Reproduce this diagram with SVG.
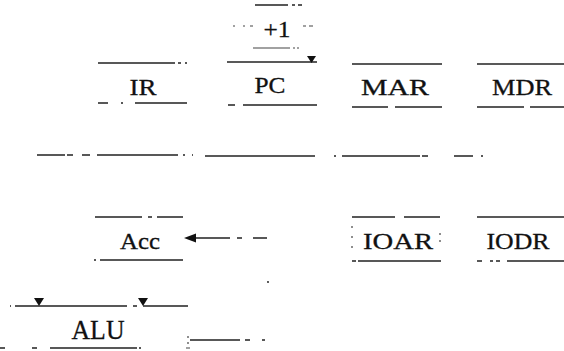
<svg xmlns="http://www.w3.org/2000/svg" width="564" height="351" viewBox="0 0 564 351">
<style>
.t{font-family:"Liberation Serif","Times New Roman",serif;fill:#111;stroke:#111;stroke-width:0.3;text-anchor:middle}
.l{stroke:#222;stroke-width:1.5;fill:none}
.d{stroke:#444;stroke-width:1.2;fill:none}
.h{fill:#111;stroke:none}
</style>
<rect width="564" height="351" fill="#fff"/>
<g id="inc">
<path class="l" d="M255 5H288M292 5H295M298 5H302"/>
<path class="d" d="M233 26H235M243 26H245M250 26H253M303 26H306M309 26H313"/>
<path class="d" d="M253 48H290M293 48H295M297 48H299"/>
<text class="t" x="277" y="37" font-size="24" textLength="27" lengthAdjust="spacingAndGlyphs">+1</text>
</g>
<g id="ir">
<path class="l" d="M98 63H175M178 63H181M185 63H187"/>
<path class="l" d="M98 103H108M121 103H123M135 103H187"/>
<text class="t" x="143" y="95" font-size="24" textLength="27" lengthAdjust="spacingAndGlyphs">IR</text>
</g>
<g id="pc">
<path class="l" d="M227 62H317"/>
<path class="l" d="M228 105H235M243 105H317"/>
<text class="t" x="270" y="93" font-size="24" textLength="31" lengthAdjust="spacingAndGlyphs">PC</text>
</g>
<g id="mar">
<path class="l" d="M352 64H442"/>
<path class="l" d="M352 107H388M395 107H442"/>
<text class="t" x="395" y="95" font-size="24" textLength="68" lengthAdjust="spacingAndGlyphs">MAR</text>
</g>
<g id="mdr">
<path class="l" d="M477 64H564"/>
<path class="l" d="M477 107H524M530 107H564"/>
<text class="t" x="522" y="95" font-size="24" textLength="60" lengthAdjust="spacingAndGlyphs">MDR</text>
</g>
<g id="bus">
<path class="l" d="M37 155H65M67 155H73M82 155H90M97 155H178M183 155H185M192 155H193"/>
<path class="l" d="M205 156H315"/>
<path class="l" d="M334 156H336M342 156H420M422 156H428"/>
<path class="l" d="M454 156H473M481 156H483"/>
</g>
<g id="acc">
<path class="l" d="M95 217H142M148 217H152M157 217H183"/>
<path class="l" d="M94 260H96M100 260H183"/>
<text class="t" x="140" y="249" font-size="24" textLength="40" lengthAdjust="spacingAndGlyphs">Acc</text>
</g>
<g id="ioar">
<path class="l" d="M352 217H395M404 217H440"/>
<path class="d" d="M352 226V228M352 236V238M352 246V248M440 233V235M440 240V242"/>
<path class="l" d="M352 261H356M358 261H441"/>
<text class="t" x="398" y="249" font-size="24" textLength="70" lengthAdjust="spacingAndGlyphs">IOAR</text>
</g>
<g id="iodr">
<path class="l" d="M477 217H564"/>
<path class="l" d="M477 261H482M490 261H493M496 261H500M507 261H564"/>
<text class="t" x="518" y="249" font-size="24" textLength="63" lengthAdjust="spacingAndGlyphs">IODR</text>
</g>
<g id="alu">
<path class="l" d="M10 306H11M15 306H127M133 306H137M143 306H188"/>
<path class="l" d="M0 348H5M32 348H37M50 348H137M139 348H141"/>
<path class="d" d="M188 336V338M188 342V344M186 348H190"/>
<text class="t" x="98" y="339" font-size="28" textLength="53" lengthAdjust="spacingAndGlyphs">ALU</text>
</g>
<g id="connectors">
<path class="h" d="M307 56H316L311.5 63Z"/>
<path class="l" d="M195 238H230M237 238H242M253 238H267"/>
<path class="h" d="M184 238L196 233.5V242.5Z"/>
<path class="h" d="M34 298H44L39 306Z"/>
<path class="h" d="M138 298H148L143 306Z"/>
<path class="l" d="M190 340H240M245 340H250M262 340H265"/>
<circle class="h" cx="268" cy="282" r="0.9"/>
</g>
</svg>
